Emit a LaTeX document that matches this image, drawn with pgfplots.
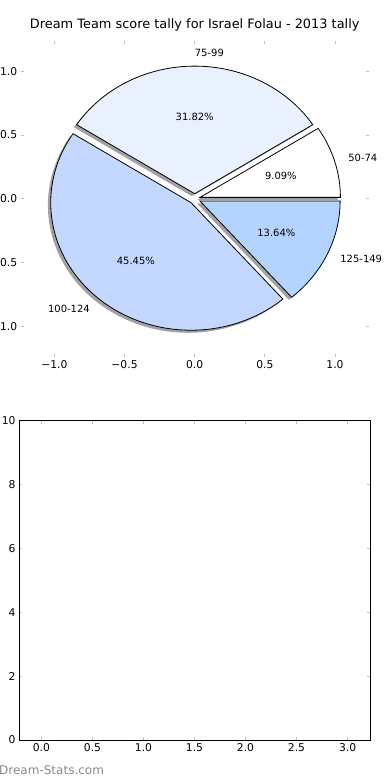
\documentclass[border=0pt]{standalone}
\usepackage{fontspec}
\setmainfont{DejaVu Sans}
\usepackage{pgfplots}
\usepackage{pgfplotstable}
\pgfplotsset{compat=1.18}
\definecolor{sliceA}{RGB}{255,255,255}
\definecolor{sliceB}{RGB}{233,241,255}
\definecolor{sliceC}{RGB}{196,216,255}
\definecolor{sliceD}{RGB}{179,212,255}
\definecolor{shadowgray}{RGB}{160,162,166}
\definecolor{tickgray}{RGB}{192,192,192}
\definecolor{wmgray}{RGB}{136,136,136}

\pgfplotstableread{
label count
50-74 2
75-99 7
100-124 10
125-149 3
}\piedata

\newcommand\slice[5]{%
  \addplot[draw=black, line width=0.8bp, fill=#5, domain=#1:#2, samples=90, variable=\t]
    ({#3+cos(\t)},{#4+sin(\t)}) -- (axis cs:#3,#4) -- cycle;
}
\newcommand\shadowslice[4]{%
  \addplot[draw=none, fill=shadowgray, domain=#1:#2, samples=90, variable=\t]
    ({#3-0.02+cos(\t)},{#4-0.02+sin(\t)}) -- (axis cs:#3-0.02,#4-0.02) -- cycle;
}

\begin{document}
\begin{tikzpicture}
\useasboundingbox (0,0) rectangle (390bp,780bp);
% read data
\pgfplotstablegetelem{0}{count}\of\piedata \edef\cA{\pgfplotsretval}
\pgfplotstablegetelem{1}{count}\of\piedata \edef\cB{\pgfplotsretval}
\pgfplotstablegetelem{2}{count}\of\piedata \edef\cC{\pgfplotsretval}
\pgfplotstablegetelem{3}{count}\of\piedata \edef\cD{\pgfplotsretval}
\pgfplotstablegetelem{0}{label}\of\piedata \edef\lA{\pgfplotsretval}
\pgfplotstablegetelem{1}{label}\of\piedata \edef\lB{\pgfplotsretval}
\pgfplotstablegetelem{2}{label}\of\piedata \edef\lC{\pgfplotsretval}
\pgfplotstablegetelem{3}{label}\of\piedata \edef\lD{\pgfplotsretval}
\pgfmathsetmacro\tot{\cA+\cB+\cC+\cD}
\pgfmathsetmacro\eA{360*\cA/\tot}
\pgfmathsetmacro\eB{\eA+360*\cB/\tot}
\pgfmathsetmacro\eC{\eB+360*\cC/\tot}
\pgfmathsetmacro\eD{360}
\pgfmathsetmacro\mA{\eA/2}
\pgfmathsetmacro\mB{(\eA+\eB)/2}
\pgfmathsetmacro\mC{(\eB+\eC)/2}
\pgfmathsetmacro\mD{(\eC+\eD)/2}
\pgfmathsetmacro\xA{0.04*cos(\mA)}\pgfmathsetmacro\yA{0.04*sin(\mA)}
\pgfmathsetmacro\xB{0.04*cos(\mB)}\pgfmathsetmacro\yB{0.04*sin(\mB)}
\pgfmathsetmacro\xC{0.04*cos(\mC)}\pgfmathsetmacro\yC{0.04*sin(\mC)}
\pgfmathsetmacro\xD{0.04*cos(\mD)}\pgfmathsetmacro\yD{0.04*sin(\mD)}
\pgfmathsetmacro\pA{100*\cA/\tot}
\pgfmathsetmacro\pB{100*\cB/\tot}
\pgfmathsetmacro\pC{100*\cC/\tot}
\pgfmathsetmacro\pD{100*\cD/\tot}
\newcommand\pct[1]{\pgfmathprintnumber[fixed,precision=2,fixed zerofill,assume math mode=true]{#1}\%}

\begin{axis}[
  at={(20.7bp,423bp)}, anchor=south west, scale only axis,
  width=348bp, height=316.4bp,
  xmin=-1.24, xmax=1.24, ymin=-1.24, ymax=1.24,
  axis line style={draw=none},
  xtick={-1,-0.5,0,0.5,1}, xticklabels={−1.0,−0.5,0.0,0.5,1.0},
  ytick={-1,-0.5,0,0.5,1}, yticklabels={−1.0,−0.5,0.0,0.5,1.0},
  tick align=inside, major tick length=3bp,
  tick style={tickgray, line width=1bp},
  tick label style={font=\fontsize{10.75bp}{12bp}\selectfont},
  title={Dream Team score tally for Israel Folau - 2013 tally},
  title style={font=\fontsize{12.9bp}{15bp}\selectfont, anchor=base, at={(0.5,1)}, yshift=6.6bp},
  clip=false,
]
\shadowslice{0}{\eA}{\xA}{\yA}
\shadowslice{\eA}{\eB}{\xB}{\yB}
\shadowslice{\eB}{\eC}{\xC}{\yC}
\shadowslice{\eC}{\eD}{\xD}{\yD}
\slice{0}{\eA}{\xA}{\yA}{sliceA}
\slice{\eA}{\eB}{\xB}{\yB}{sliceB}
\slice{\eB}{\eC}{\xC}{\yC}{sliceC}
\slice{\eC}{\eD}{\xD}{\yD}{sliceD}
\begingroup\fontsize{10.75bp}{12bp}\selectfont
\node[anchor=west, inner sep=0pt] at (axis cs:{1.14*cos(\mA)},{1.14*sin(\mA)}) {\lA};
\node[anchor=west, inner sep=0pt] at (axis cs:{1.14*cos(\mB)},{1.14*sin(\mB)}) {\lB};
\node[anchor=east, inner sep=0pt] at (axis cs:{1.14*cos(\mC)},{1.14*sin(\mC)}) {\lC};
\node[anchor=west, inner sep=0pt] at (axis cs:{1.14*cos(\mD)},{1.14*sin(\mD)}) {\lD};
\node[inner sep=0pt] at (axis cs:{0.64*cos(\mA)},{0.64*sin(\mA)}) {\pct{\pA}};
\node[inner sep=0pt] at (axis cs:{0.64*cos(\mB)},{0.64*sin(\mB)}) {\pct{\pB}};
\node[inner sep=0pt] at (axis cs:{0.64*cos(\mC)},{0.64*sin(\mC)}) {\pct{\pC}};
\node[inner sep=0pt] at (axis cs:{0.64*cos(\mD)},{0.64*sin(\mD)}) {\pct{\pD}};
\endgroup
\end{axis}

\begin{axis}[
  at={(19bp,40bp)}, anchor=south west, scale only axis,
  width=351bp, height=319bp,
  xmin=-0.22, xmax=3.22, ymin=0, ymax=10,
  xtick={0,0.5,1,1.5,2,2.5,3}, xticklabels={0.0,0.5,1.0,1.5,2.0,2.5,3.0},
  ytick={0,2,4,6,8,10},
  /pgf/number format/assume math mode=true,
  axis line style={black, line width=1bp},
  tick align=inside, major tick length=3bp,
  tick style={tickgray, line width=1bp},
  tick label style={font=\fontsize{10.75bp}{12bp}\selectfont},
]
\end{axis}
\node[anchor=base west, inner sep=0pt, text=wmgray, font=\fontsize{12bp}{14bp}\selectfont] at (-1bp,6bp) {Dream-Stats.com};
\end{tikzpicture}
\end{document}
